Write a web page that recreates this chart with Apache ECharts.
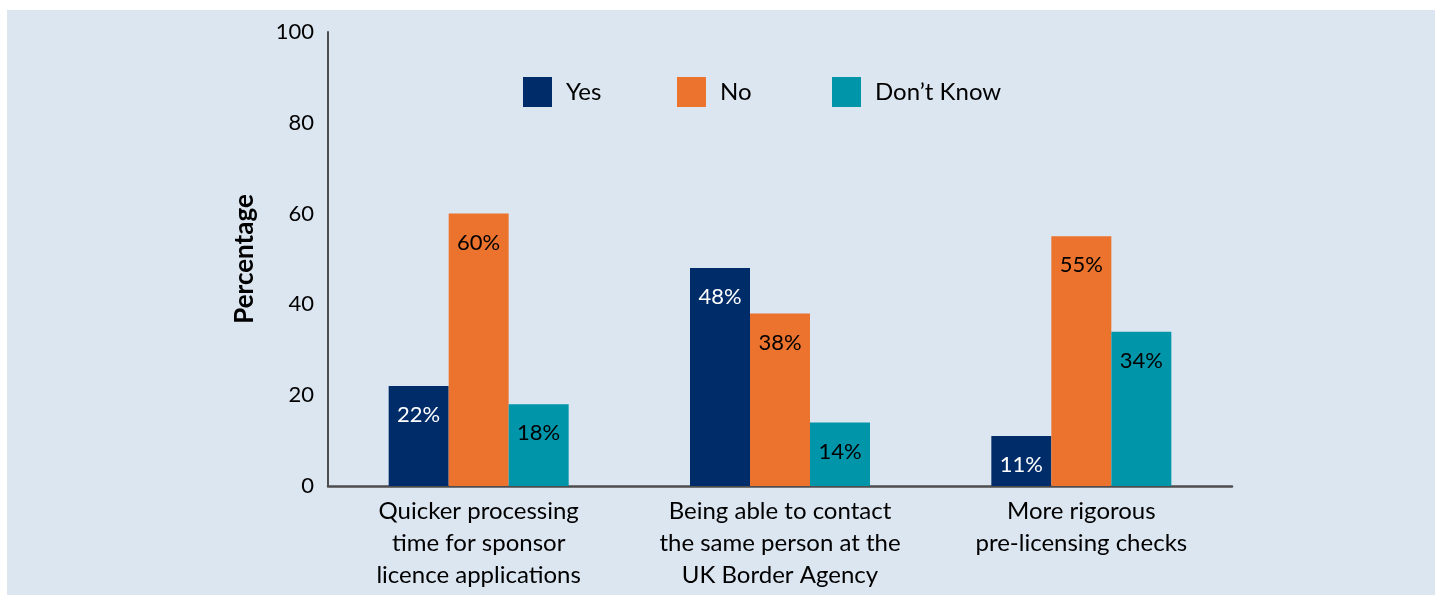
<!DOCTYPE html>
<html>
<head>
<meta charset="utf-8">
<script src="https://cdn.jsdelivr.net/npm/echarts@6/dist/echarts.min.js"></script>
<style>
  html, body { margin: 0; padding: 0; background: #fff; }
  #chart { position: absolute; left: 7px; top: 10px; width: 1428px; height: 585px; background: #dce6f1; }
</style>
</head>
<body>
<div id="chart"></div>
<script>
const categories = [
  'Quicker processing\ntime for sponsor\nlicence applications',
  'Being able to contact\nthe same person at the\nUK Border Agency',
  'More rigorous\npre-licensing checks'
]
const seriesNames = ['Yes', 'No', 'Don\u2019t Know']
const yesValues = [22, 48, 11]
const noValues = [60, 38, 55]
const dontKnowValues = [18, 14, 34]
const yTicks = [0, 20, 40, 60, 80, 100]

const font = 'Lato, "Open Sans", sans-serif'
const legendLefts = [516, 670, 825]

const chart = echarts.init(document.getElementById('chart'))

function barSeries(name, data, color, labelColor) {
  return {
    name: name,
    type: 'bar',
    data: data,
    barWidth: 60,
    barGap: '0%',
    itemStyle: { color: color },
    label: {
      show: true,
      position: 'insideTop',
      distance: 18,
      color: labelColor,
      fontFamily: font,
      fontSize: 22,
      formatter: '{c}%'
    }
  }
}

// one legend per item so each sits where the original puts it
const legends = seriesNames.map((name, i) => ({
  left: legendLefts[i],
  top: 67,
  padding: 0,
  itemWidth: 29,
  itemHeight: 30,
  icon: 'rect',
  textStyle: { fontFamily: font, fontSize: 24, color: '#000', padding: [0, 0, 0, 9] },
  data: [name]
}))

chart.setOption({
  animation: false,
  textStyle: { fontFamily: font },
  grid: { left: 321, right: 203, top: 22, bottom: 109 },
  legend: legends,
  xAxis: {
    type: 'category',
    data: categories,
    axisLine: { lineStyle: { color: '#4d4d4d', width: 2.5 } },
    axisTick: { show: false },
    axisLabel: {
      color: '#000',
      fontFamily: font,
      fontSize: 24,
      lineHeight: 32,
      margin: 9,
      interval: 0
    }
  },
  yAxis: {
    type: 'value',
    min: yTicks[0],
    max: yTicks[yTicks.length - 1],
    interval: yTicks[1] - yTicks[0],
    name: 'Percentage',
    nameLocation: 'middle',
    nameGap: 70,
    nameTextStyle: { fontFamily: font, fontSize: 26, fontWeight: 'bold', color: '#000' },
    axisLine: { show: true, lineStyle: { color: '#4d4d4d', width: 2 } },
    axisTick: { show: false },
    splitLine: { show: false },
    axisLabel: { color: '#000', fontFamily: font, fontSize: 22, margin: 14, padding: [8, 0, 0, 0] }
  },
  series: [
    barSeries(seriesNames[0], yesValues, '#002d6a', '#fff'),
    barSeries(seriesNames[1], noValues, '#ec732e', '#000'),
    barSeries(seriesNames[2], dontKnowValues, '#0095a9', '#000')
  ]
})
</script>
</body>
</html>
